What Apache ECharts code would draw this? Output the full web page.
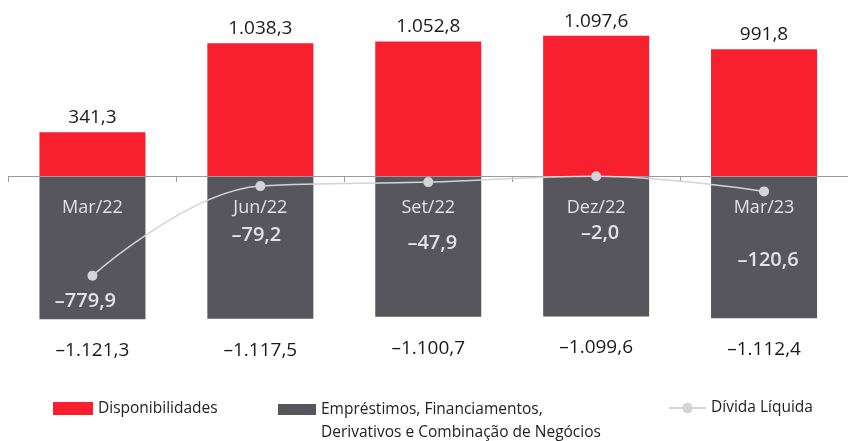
<!DOCTYPE html>
<html>
<head>
<meta charset="utf-8">
<script src="https://cdn.jsdelivr.net/npm/echarts@6/dist/echarts.min.js"></script>
<style>
html,body{margin:0;padding:0;background:#fff;}
#c{width:848px;height:441px;}
</style>
</head>
<body>
<div id="c"></div>
<script>
var categories = ['Mar/22', 'Jun/22', 'Set/22', 'Dez/22', 'Mar/23'];
var disponibilidades = [341.3, 1038.3, 1052.8, 1097.6, 991.8];
var emprestimos = [-1121.3, -1117.5, -1100.7, -1099.6, -1112.4];
var dividaLiquida = [-779.9, -79.2, -47.9, -2.0, -120.6];
var legendNames = ['Disponibilidades', 'Empréstimos, Financiamentos,', 'Dívida Líquida'];
var legendSecondLine = 'Derivativos e Combinação de Negócios';

// label offsets (style only)
var lineLabelDx = [-7, -4, 4, 4, 4];
var lineLabelDy = [26, 49, 61, 57, 69];

function fmt(v) {
  var neg = v < 0;
  var s = Math.abs(v).toFixed(1).split('.');
  var ip = s[0].replace(/\B(?=(\d{3})+(?!\d))/g, '.');
  return (neg ? '\u2013' : '') + ip + ',' + s[1];
}

var FONT = "'Open Sans', 'Noto Sans', sans-serif";
var chart = echarts.init(document.getElementById('c'), null, {renderer: 'canvas'});

var lineData = dividaLiquida.map(function (v, i) {
  return {value: v, label: {offset: [lineLabelDx[i], lineLabelDy[i]]}};
});

var legendText = {color: '#222', fontSize: 15.5, fontFamily: FONT};

chart.setOption({
  animation: false,
  grid: {left: 8.5, top: 22.64, width: 849, height: 306.7, containLabel: false},
  xAxis: {
    type: 'category',
    data: categories,
    z: 10,
    axisLine: {onZero: true, lineStyle: {color: '#9a9a9a', width: 1.2}},
    axisTick: {show: true, inside: false, length: 6, lineStyle: {color: '#9a9a9a'}},
    axisLabel: {color: '#e2e2e4', fontSize: 18, fontFamily: FONT, margin: -130}
  },
  yAxis: {
    type: 'value', min: -1200, max: 1200, show: false,
    splitLine: {show: false}
  },
  legend: [
    {
      data: [legendNames[0]], icon: 'rect', padding: 0,
      left: 53, top: 400.5,
      itemWidth: 40, itemHeight: 13,
      textStyle: legendText
    },
    {
      data: [legendNames[1]], icon: 'rect', padding: 0,
      left: 278, top: 401.5,
      itemWidth: 38, itemHeight: 11,
      textStyle: legendText
    },
    {
      data: [legendNames[2]], padding: 0,
      left: 668, top: 400,
      itemWidth: 37, itemHeight: 13,
      textStyle: legendText
    }
  ],
  graphic: [{
    type: 'text', left: 321, top: 425,
    style: {text: legendSecondLine, fill: '#222', fontSize: 15.5, fontFamily: FONT}
  }],
  series: [
    {
      name: legendNames[0],
      type: 'bar',
      data: disponibilidades,
      barWidth: 106,
      barGap: '-100%',
      itemStyle: {color: '#f8202e'},
      label: {
        show: true, position: 'top', distance: 5,
        color: '#1a1a1a', fontSize: 19, fontFamily: FONT,
        formatter: function (p) { return fmt(p.value); }
      }
    },
    {
      name: legendNames[1],
      type: 'bar',
      data: emprestimos,
      barWidth: 106,
      barGap: '-100%',
      itemStyle: {color: '#56565c'},
      label: {
        show: true, position: 'bottom', distance: 22,
        color: '#1a1a1a', fontSize: 19, fontFamily: FONT,
        formatter: function (p) { return fmt(p.value); }
      }
    },
    {
      name: legendNames[2],
      type: 'line',
      data: lineData,
      z: 20,
      smooth: 0.4,
      symbol: 'circle',
      symbolSize: 10,
      lineStyle: {color: '#d4d4d6', width: 1.5},
      itemStyle: {color: '#d4d4d6'},
      label: {
        show: true, position: 'inside',
        color: '#e2e2e4', fontSize: 20, fontWeight: 600, fontFamily: FONT,
        formatter: function (p) { return fmt(p.value); }
      }
    }
  ]
});
</script>
</body>
</html>
